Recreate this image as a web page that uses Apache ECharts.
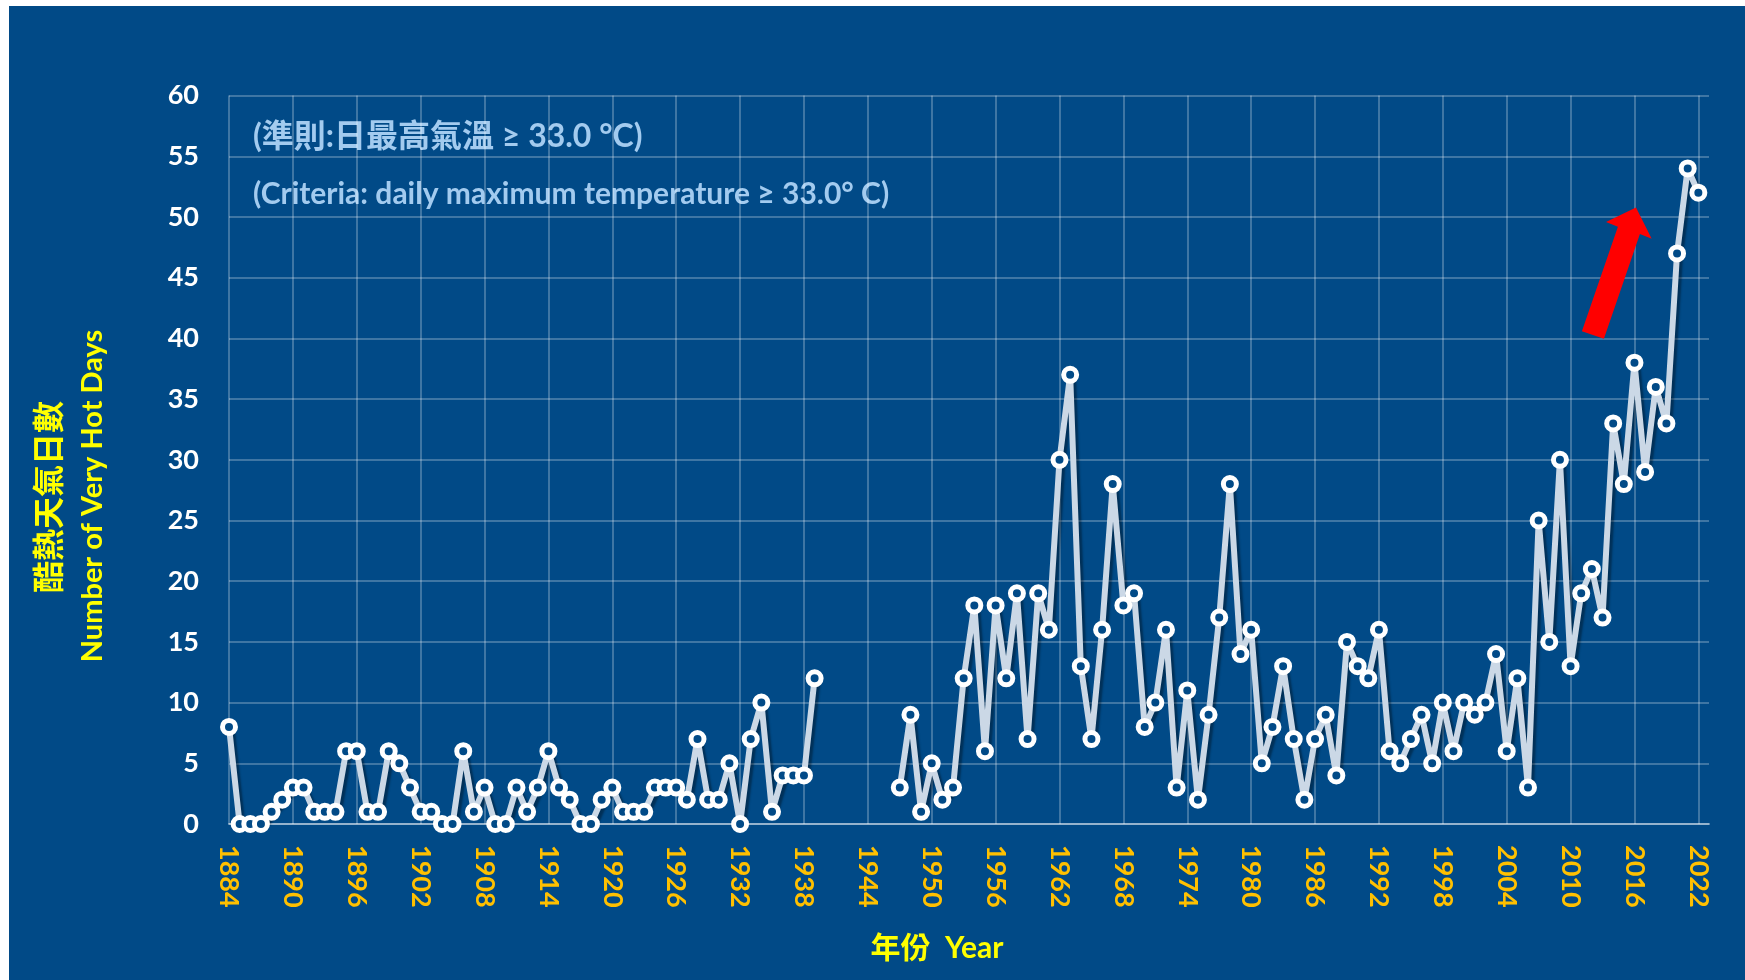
<!DOCTYPE html>
<html>
<head>
<meta charset="utf-8">
<script src="https://cdn.jsdelivr.net/npm/echarts@6/dist/echarts.min.js"></script>
<style>
  html, body { margin: 0; padding: 0; background: #ffffff; width: 1745px; height: 980px; overflow: hidden; }
  #chart { position: absolute; left: 9px; top: 6px; width: 1736px; height: 974px; background: #014a87; }
</style>
</head>
<body>
<div id="chart"></div>
<script>
// Number of very hot days per year (Hong Kong Observatory), 1884-2022
const firstYear = 1884;
const veryHotDays = [
  // 1884-1893
  8, 0, 0, 0, 1, 2, 3, 3, 1, 1,
  // 1894-1903
  1, 6, 6, 1, 1, 6, 5, 3, 1, 1,
  // 1904-1913
  0, 0, 6, 1, 3, 0, 0, 3, 1, 3,
  // 1914-1923
  6, 3, 2, 0, 0, 2, 3, 1, 1, 1,
  // 1924-1933
  3, 3, 3, 2, 7, 2, 2, 5, 0, 7,
  // 1934-1939
  10, 1, 4, 4, 4, 12,
  // 1940-1946 (no record)
  null, null, null, null, null, null, null,
  // 1947-1956
  3, 9, 1, 5, 2, 3, 12, 18, 6, 18,
  // 1957-1966
  12, 19, 7, 19, 16, 30, 37, 13, 7, 16,
  // 1967-1976
  28, 18, 19, 8, 10, 16, 3, 11, 2, 9,
  // 1977-1986
  17, 28, 14, 16, 5, 8, 13, 7, 2, 7,
  // 1987-1996
  9, 4, 15, 13, 12, 16, 6, 5, 7, 9,
  // 1997-2006
  5, 10, 6, 10, 9, 10, 14, 6, 12, 3,
  // 2007-2016
  25, 15, 30, 13, 19, 21, 17, 33, 28, 38,
  // 2017-2022
  29, 36, 33, 47, 54, 52
];
const xMin = 1884, xMax = 2023, xStep = 6;
const yMin = 0, yMax = 60, yStep = 5;

const yTitleZh = '酷熱天氣日數';
const yTitleEn = 'Number of Very Hot Days';
const xTitle = '年份  Year';
const noteZh = '(準則:日最高氣溫 ≥ 33.0 °C)';
const noteEn = '(Criteria: daily maximum temperature ≥ 33.0° C)';

const seriesData = veryHotDays.map((v, i) => [firstYear + i, v]);

const BG = '#014a87';
const GRID = 'rgba(255,255,255,0.33)';
const LATIN = 'Lato, "Noto Sans CJK TC", sans-serif';

const chart = echarts.init(document.getElementById('chart'), null, { renderer: 'canvas' });
chart.setOption({
  animation: false,
  backgroundColor: BG,
  grid: { left: 220, right: 36, top: 89.6, bottom: 156, containLabel: false },
  xAxis: {
    type: 'value', min: xMin, max: xMax, interval: xStep,
    axisLine: { show: true, onZero: false, lineStyle: { color: 'rgba(255,255,255,0.45)', width: 2 } },
    axisTick: { show: false },
    axisLabel: {
      color: '#ffc000', fontWeight: 'bold', fontSize: 27, fontFamily: LATIN,
      rotate: -90, margin: 21, showMaxLabel: false, formatter: v => String(v)
    },
    splitLine: { show: true, showMaxLine: false, lineStyle: { color: GRID, width: 1.5 } }
  },
  yAxis: {
    type: 'value', min: yMin, max: yMax, interval: yStep,
    axisLine: { show: false },
    axisTick: { show: false },
    axisLabel: { color: '#ffffff', fontWeight: 'bold', fontSize: 27, fontFamily: LATIN, margin: 30 },
    splitLine: { show: true, lineStyle: { color: GRID, width: 1.5 } }
  },
  series: [{
    type: 'line',
    data: seriesData,
    connectNulls: false,
    symbol: 'circle',
    symbolSize: 13,
    showSymbol: true,
    lineStyle: { color: '#cbd8e6', width: 6, shadowColor: 'rgba(0,0,0,0.35)', shadowOffsetX: 3, shadowOffsetY: 3, shadowBlur: 2 },
    itemStyle: { color: BG, borderColor: '#ffffff', borderWidth: 5 },
    z: 3
  }],
  graphic: [
    { type: 'text', x: 244, y: 131, style: { text: noteZh, fill: '#a3cbef', font: 'bold 32px ' + LATIN, textAlign: 'left', textVerticalAlign: 'middle' } },
    { type: 'text', x: 244, y: 188, style: { text: noteEn, fill: '#a3cbef', font: 'bold 30px ' + LATIN, textAlign: 'left', textVerticalAlign: 'middle' } },
    { type: 'text', x: 928, y: 942, style: { text: xTitle, fill: '#ffff00', font: 'bold 30px ' + LATIN, textAlign: 'center', textVerticalAlign: 'middle' } },
    { type: 'text', x: 39, y: 491, rotation: Math.PI / 2, style: { text: yTitleZh, fill: '#ffff00', font: 'bold 32px "Noto Sans CJK TC", sans-serif', textAlign: 'center', textVerticalAlign: 'middle' } },
    { type: 'text', x: 84, y: 490, rotation: Math.PI / 2, style: { text: yTitleEn, fill: '#ffff00', font: 'bold 29px ' + LATIN, textAlign: 'center', textVerticalAlign: 'middle' } },
    { type: 'polygon', shape: { points: [
        [1572.9, 325.2], [1608.9, 220.7], [1597, 216], [1627, 201.6],
        [1642.7, 232.7], [1630.9, 228.1], [1594.9, 332.8]
      ] }, style: { fill: '#ff0000' }, z: 10 }
  ]
});
</script>
</body>
</html>
